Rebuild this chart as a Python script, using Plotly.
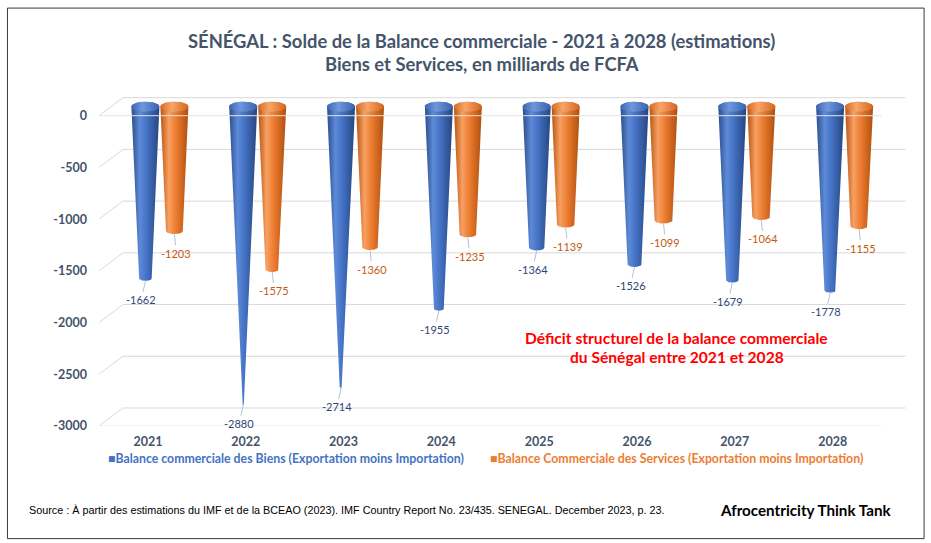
import numpy as np
import plotly.graph_objects as go

# ---------------- data ----------------
years = ["2021", "2022", "2023", "2024", "2025", "2026", "2027", "2028"]
biens = [-1662, -2880, -2714, -1955, -1364, -1526, -1679, -1778]
services = [-1203, -1575, -1360, -1235, -1139, -1099, -1064, -1155]
y_ticks = [0, -500, -1000, -1500, -2000, -2500, -3000]
name_biens = "Balance commerciale des Biens (Exportation moins Importation)"
name_services = "Balance Commerciale des Services (Exportation moins Importation)"
title_l1 = "SÉNÉGAL : Solde de la Balance commerciale - 2021 à 2028 (estimations)"
title_l2 = "Biens et Services, en milliards de FCFA"
note_l1 = "Déficit structurel de la balance commerciale"
note_l2 = "du Sénégal entre 2021 et 2028"
source = ("Source : À partir des estimations du IMF et de la BCEAO (2023). IMF Country Report No. 23/435. "
          "SENEGAL. December 2023, p. 23.")
brand = "Afrocentricity Think Tank"

# ---------------- layout geometry ----------------
FW, FH = 931, 543
L, R = 99.07, 24.6
XR = [-0.5, 7.75]
KX = (FW - L - R) / (XR[1] - XR[0])
YR = [-3000, 200]
PLOT_BOTTOM = 426.0
KY = 310.0 / 3000.0
H = (YR[1] - YR[0]) * KY
T = PLOT_BOTTOM - H
B = FH - PLOT_BOTTOM

def xp(px):
    return (px - L) / (FW - L - R)

def yp(py):
    return (PLOT_BOTTOM - py) / H

dx_mid, dy_mid = 12 / KX, 9 / KY
dx_back, dy_back = 24 / KX, 18 / KY
rx = 14 / KX
ry = 5 / KY
off = 14.5 / KX
vmin = 3000.0

BLUE_SCALE = [[0, "#2b4d8c"], [0.3, "#5d8ad8"], [0.55, "#4472c4"], [1, "#26457f"]]
BLUE_TOP = [[0, "#3d66b3"], [0.4, "#6f97dc"], [1, "#3a62ad"]]
ORANGE_SCALE = [[0, "#b9540f"], [0.3, "#f7a062"], [0.55, "#ed7d31"], [1, "#b04f0d"]]
ORANGE_TOP = [[0, "#d86a22"], [0.4, "#f8a56a"], [1, "#d3661f"]]

fig = go.Figure()

shapes = []
grid_col = "#d9d9d9"
for v in y_ticks:
    shapes.append(dict(type="line", xref="x", yref="y", x0=XR[0] + dx_back, x1=7.5 + dx_back,
                       y0=v + dy_back, y1=v + dy_back, line=dict(color=grid_col, width=1), layer="below"))
    shapes.append(dict(type="line", xref="x", yref="y", x0=XR[0], x1=XR[0] + dx_back,
                       y0=v, y1=v + dy_back, line=dict(color=grid_col, width=1), layer="below"))
for v in (0, -3000):
    shapes.append(dict(type="line", xref="x", yref="y", x0=XR[0], x1=7.5, y0=v, y1=v,
                       line=dict(color="#e4e4e4", width=1), layer="above" if v == 0 else "below"))

def cone(cx, v, scale, top_scale):
    frac = max(0.0, 1 - abs(v) / vmin)
    rx1, ry1 = rx * frac, ry * frac
    y0, y1 = dy_mid, v + dy_mid
    t1 = np.linspace(np.pi, 0, 40)
    t2 = np.linspace(0, -np.pi, 40)
    xs = np.concatenate([cx + rx * np.cos(t1), cx + rx1 * np.cos(t2)])
    ys = np.concatenate([y0 + ry * np.sin(t1), y1 + ry1 * np.sin(t2)])
    xs = np.append(xs, xs[0]); ys = np.append(ys, ys[0])
    fig.add_trace(go.Scatter(x=xs, y=ys, mode="lines", fill="toself", line=dict(width=0),
                             fillgradient=dict(type="horizontal", colorscale=scale),
                             hoverinfo="skip", showlegend=False))
    t = np.linspace(0, 2 * np.pi, 60)
    fig.add_trace(go.Scatter(x=cx + rx * np.cos(t), y=y0 + ry * np.sin(t), mode="lines", fill="toself",
                             line=dict(width=0),
                             fillgradient=dict(type="horizontal", colorscale=top_scale),
                             hoverinfo="skip", showlegend=False))
    return y1 - ry1

annotations = []
for i, (b, s) in enumerate(zip(biens, services)):
    cb = i + dx_mid - off
    co = i + dx_mid + off
    tip_b = cone(cb, b, BLUE_SCALE, BLUE_TOP)
    tip_o = cone(co, s, ORANGE_SCALE, ORANGE_TOP)
    annotations.append(dict(x=cb, y=tip_b, xref="x", yref="y", text=str(b), showarrow=True,
                            arrowhead=0, arrowwidth=0.8, arrowcolor="#9fb1cf", ax=-4, ay=19,
                            font=dict(family="Lato", size=11, color="#2f4675")))
    annotations.append(dict(x=co, y=tip_o, xref="x", yref="y", text=str(s), showarrow=True,
                            arrowhead=0, arrowwidth=0.8, arrowcolor="#9fb1cf", ax=2, ay=19,
                            font=dict(family="Lato", size=11, color="#c55a11")))

def txt(px, py, text, font, xanchor="center"):
    annotations.append(dict(x=xp(px), y=yp(py), xref="paper", yref="paper", text=text,
                            xanchor=xanchor, yanchor="middle", showarrow=False, font=font))

title_col = "#44546a"
txt(482, 41, "<b>" + title_l1 + "</b>", dict(family="Lato", size=18.4, color=title_col))
txt(482, 64, "<b>" + title_l2 + "</b>", dict(family="Lato", size=18.4, color=title_col))
txt(677, 338, "<b>" + note_l1 + "</b>", dict(family="Lato", size=15.6, color="#ff0000"))
txt(677, 357, "<b>" + note_l2 + "</b>", dict(family="Lato", size=15.6, color="#ff0000"))
txt(106, 458, "<b>■" + name_biens + "</b>", dict(family="Lato", size=12.3, color="#4472c4"), "left")
txt(488, 458, "<b>■" + name_services + "</b>", dict(family="Lato", size=12.3, color="#ed7d31"), "left")
txt(27, 510, source, dict(family="Liberation Sans", size=10.8, color="#000000"), "left")
txt(893, 510, "<b>" + brand + "</b>", dict(family="Lato", size=15.2, color="#000000"), "right")

# outer border
shapes.append(dict(type="rect", xref="paper", yref="paper", x0=xp(7.5), x1=xp(924.5),
                   y0=yp(538.5), y1=yp(8.5), line=dict(color="#3a3a3a", width=1), layer="below"))

fig.update_layout(
    width=FW, height=FH, autosize=False,
    margin=dict(l=L, r=R, t=T, b=B, pad=0),
    paper_bgcolor="white", plot_bgcolor="rgba(0,0,0,0)",
    showlegend=False,
    shapes=shapes, annotations=annotations,
    xaxis=dict(range=XR, tickvals=list(range(len(years))), ticktext=years, showgrid=False,
               zeroline=False, showline=False, ticks="", ticklabelstandoff=6,
               tickfont=dict(family="Lato", size=12.5, color=title_col, weight="bold")),
    yaxis=dict(range=YR, tickvals=y_ticks, ticktext=[str(v) for v in y_ticks], showgrid=False,
               zeroline=False, showline=False, ticks="", ticklabelstandoff=11,
               tickfont=dict(family="Lato", size=12.5, color=title_col, weight="bold")),
)

fig.write_html("out.html")
